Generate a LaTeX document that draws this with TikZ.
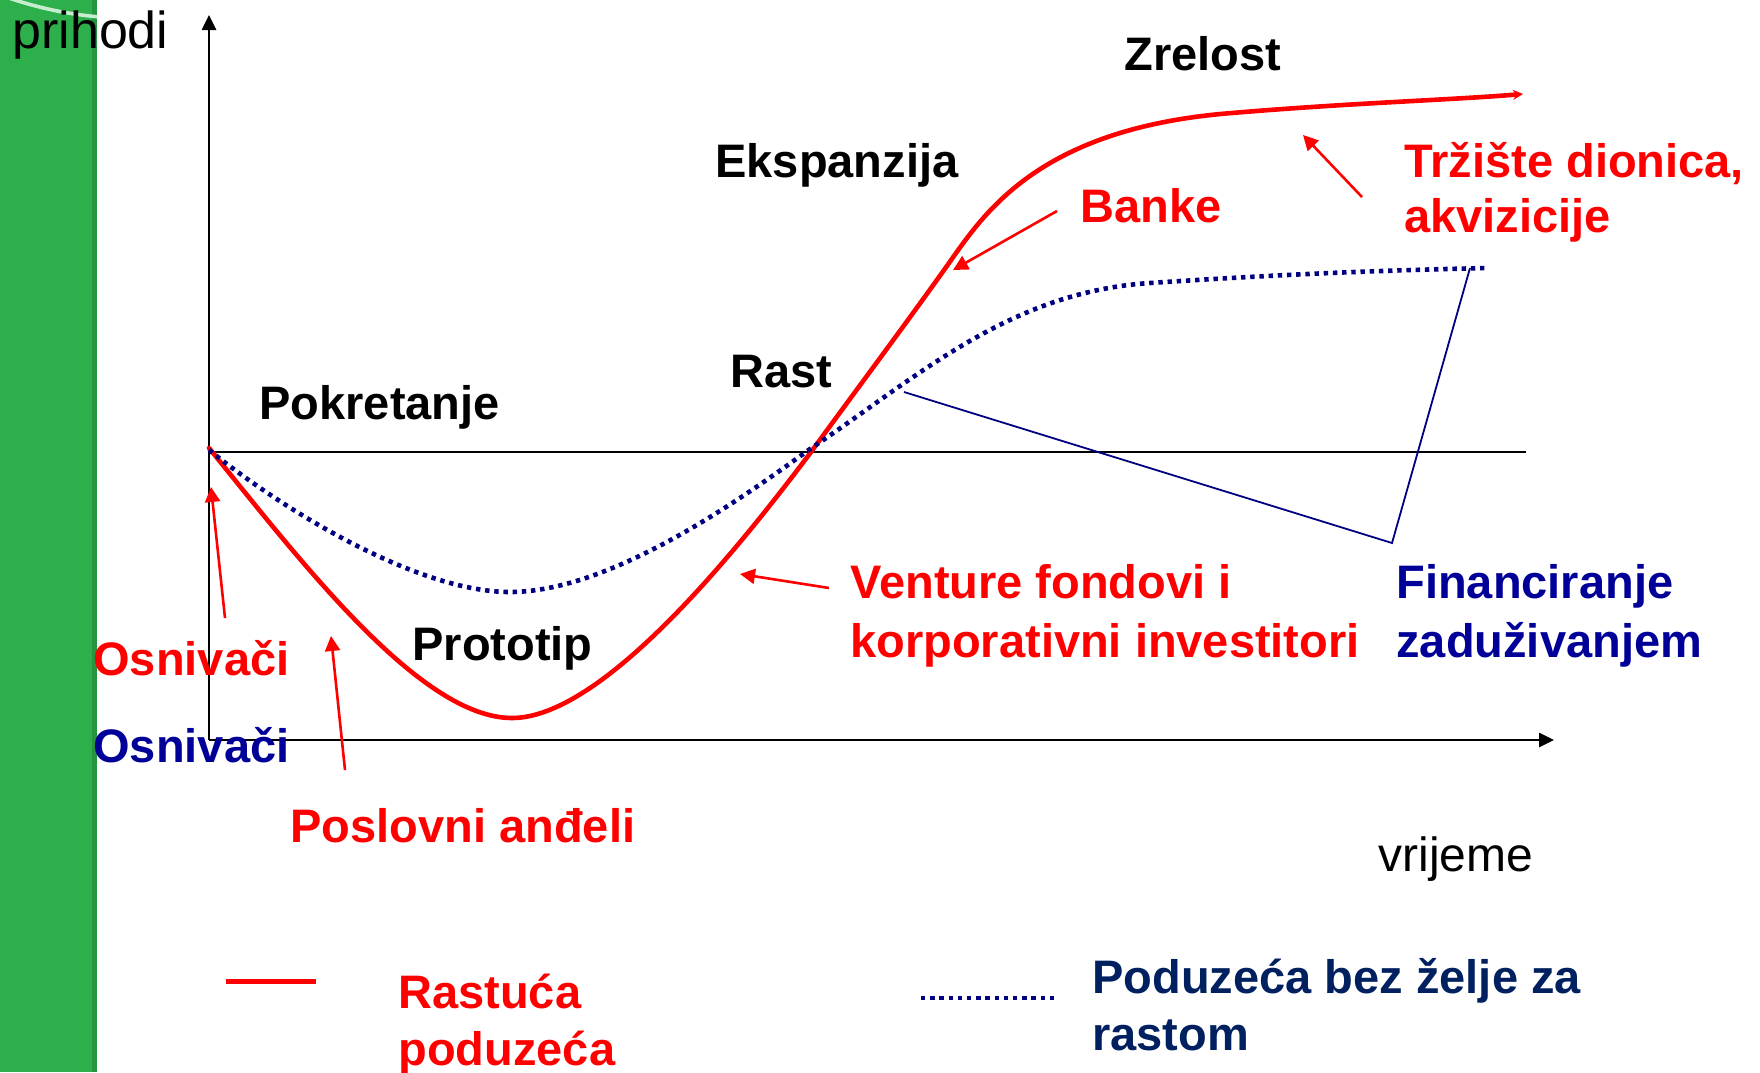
\documentclass[tikz,border=0pt]{standalone}
\usepackage{fontspec}
\setmainfont{Liberation Sans}
\usetikzlibrary{arrows.meta}
\definecolor{myred}{RGB}{255,0,0}
\definecolor{navyline}{RGB}{0,0,128}
\definecolor{bluetext}{RGB}{0,0,153}
\definecolor{darkblue}{RGB}{0,32,96}
\definecolor{slidegreen}{RGB}{45,176,75}
\definecolor{slidegreendark}{RGB}{36,150,62}
\definecolor{arcgreen}{RGB}{200,236,208}
\begin{document}
\begin{tikzpicture}[x=0.5pt,y=-0.5pt,
  lbl/.style={inner sep=0pt, anchor=base west, font=\fontsize{23.5pt}{28pt}\selectfont\bfseries},
  plainlbl/.style={inner sep=0pt, anchor=base west, font=\fontsize{24pt}{28pt}\selectfont},
  axis/.style={line width=1.3pt, -{Triangle[length=7.5pt,width=7pt]}},
  redcurve/.style={myred, line width=2.3pt, line cap=round},
  dotcurve/.style={navyline, line width=2.3pt, dash pattern=on 2.2pt off 2.4pt},
  redarrow/.style={myred, line width=1.3pt, -{Triangle[length=7.5pt,width=7.5pt]}},
  blueline/.style={navyline, line width=0.9pt}]
\useasboundingbox (0,0) rectangle (1760,1072);
% slide decoration
\fill[slidegreen] (0,0) rectangle (97,1072);
\fill[slidegreendark] (92,0) rectangle (97,1072);
\begin{scope}
\clip (0,0) rectangle (97,1072);
\draw[arcgreen, line width=1.8pt] (6,-3) .. controls (35,7) and (65,14) .. (100,17);
\end{scope}
% axes
\coordinate (O) at (209,740);
\coordinate (ytop) at (209,15);
\coordinate (xend) at (1554,740);
\draw[axis] (O) -- (ytop);
\draw[axis] (O) -- (xend);
\coordinate (z0) at (209,452);
\coordinate (z1) at (1526,452);
\draw[line width=0.9pt] (z0) -- (z1);
% growing companies (red)
\coordinate (r0) at (209,448);
\coordinate (rmin) at (512,718);
\coordinate (rx) at (811,452);
\coordinate (rb) at (949,263);
\coordinate (rk) at (1232,113);
\coordinate (rend) at (1523,94);
\draw[redcurve, -{Stealth[length=5pt,width=5pt]}]
  (r0) .. controls (300,560) and (420,718) .. (rmin)
  .. controls (600,718) and (730,560) .. (rx)
  .. controls (860,385) and (910,318) .. (rb)
  .. controls (985,212) and (1040,128) .. (rk)
  .. controls (1350,103) and (1450,100) .. (rend);
% non-growth companies (dotted)
\coordinate (d0) at (209,450);
\coordinate (dmin) at (510,592);
\coordinate (dx) at (810,449);
\coordinate (dk) at (1150,283);
\coordinate (dend) at (1488,268);
\draw[dotcurve]
  (d0) .. controls (290,515) and (420,592) .. (dmin)
  .. controls (610,592) and (740,500) .. (dx)
  .. controls (920,375) and (1010,292) .. (dk)
  .. controls (1300,273) and (1400,270) .. (dend);
% debt financing lines
\coordinate (f1) at (904,392);
\coordinate (f2) at (1392,543);
\coordinate (f3) at (1470,268);
\draw[blueline] (f1) -- (f2) -- (f3);
% labels
\node[inner sep=0pt, anchor=base west, font=\fontsize{26pt}{30pt}\selectfont] (prihodi) at (12,48) {prihodi};
\node[plainlbl] (vrijeme) at (1378,871) {vrijeme};
\node[lbl] (zrelost) at (1124,70) {Zrelost};
\node[lbl] (ekspanzija) at (715,177) {Ekspanzija};
\node[lbl, myred] (banke) at (1080,222) {Banke};
\node[lbl, myred] (trziste1) at (1404,177) {Tržište dionica,};
\node[lbl, myred] (trziste2) at (1404,232) {akvizicije};
\node[lbl] (rast) at (730,387) {Rast};
\node[lbl] (pokretanje) at (259,419) {Pokretanje};
\node[lbl] (prototip) at (412,660) {Prototip};
\node[lbl, myred] (osnred) at (93,675) {Osnivači};
\node[lbl, bluetext] (osnblue) at (93,762) {Osnivači};
\node[lbl, myred] (andjeli) at (290,842) {Poslovni anđeli};
\node[lbl, myred] (venture1) at (850,598) {Venture fondovi i};
\node[lbl, myred] (venture2) at (850,657) {korporativni investitori};
\node[lbl, bluetext] (fin1) at (1396,598) {Financiranje};
\node[lbl, bluetext] (fin2) at (1396,657) {zaduživanjem};
% arrows
\coordinate (a1s) at (225,618); \coordinate (a1e) at (211,487);
\coordinate (a2s) at (345,770); \coordinate (a2e) at (331,636);
\coordinate (a3s) at (829,588); \coordinate (a3e) at (740,574);
\coordinate (a4s) at (1057,211); \coordinate (a4e) at (953,270);
\coordinate (a5s) at (1362,197); \coordinate (a5e) at (1303,135);
\draw[redarrow] (a1s) -- (a1e);
\draw[redarrow] (a2s) -- (a2e);
\draw[redarrow] (a3s) -- (a3e);
\draw[redarrow] (a4s) -- (a4e);
\draw[redarrow] (a5s) -- (a5e);
% legend
\coordinate (l1a) at (226,981); \coordinate (l1b) at (316,981);
\draw[myred, line width=2.5pt] (l1a) -- (l1b);
\node[lbl, myred] (rastuca1) at (398,1008) {Rastuća};
\node[lbl, myred] (rastuca2) at (398,1065) {poduzeća};
\coordinate (l2a) at (921,998); \coordinate (l2b) at (1057,998);
\draw[dotcurve] (l2a) -- (l2b);
\node[lbl, darkblue] (bez1) at (1092,993) {Poduzeća bez želje za};
\node[lbl, darkblue] (bez2) at (1092,1050) {rastom};
\end{tikzpicture}
\end{document}
